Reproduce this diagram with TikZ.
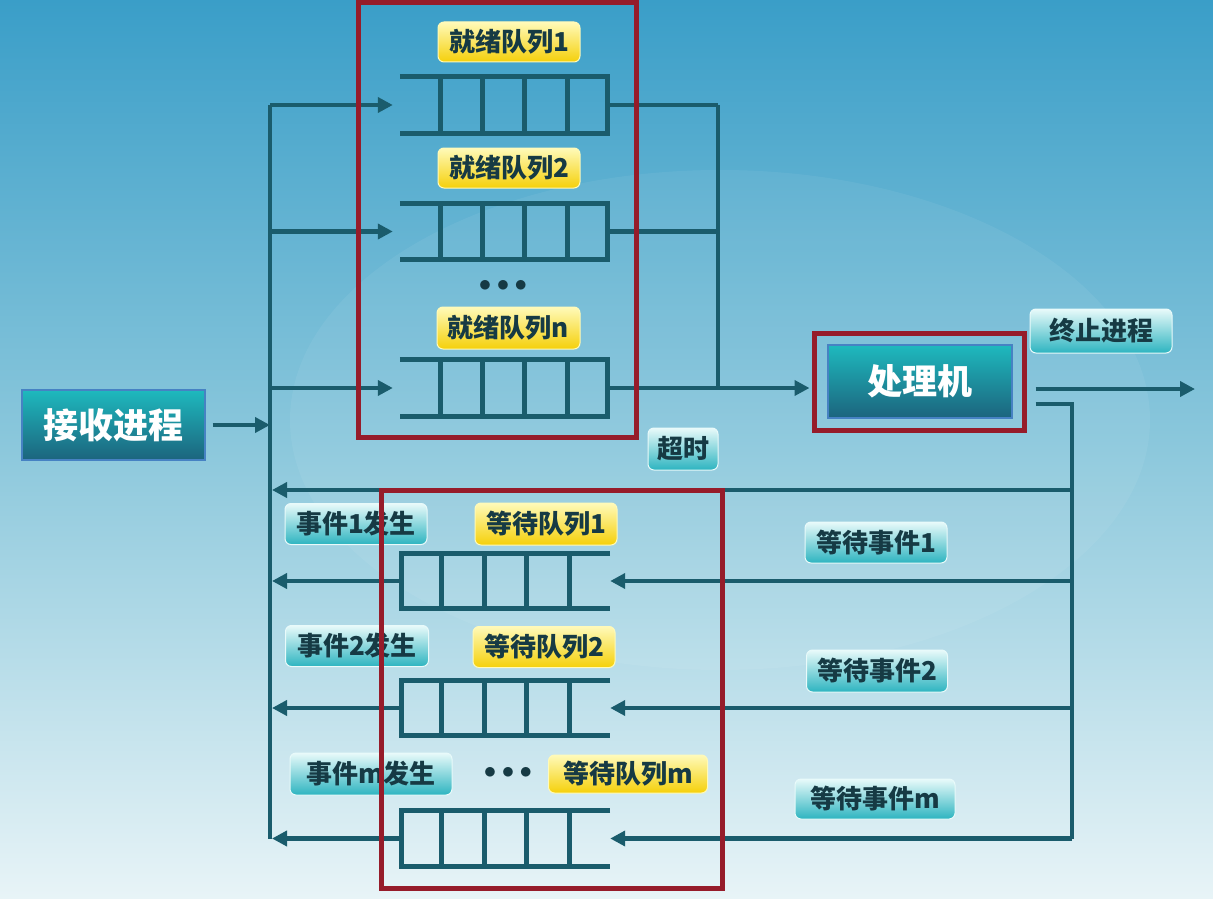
\documentclass[tikz,border=0pt]{standalone}
\usepackage{fontspec}
\newfontfamily\cjk{Noto Sans CJK SC}
\usetikzlibrary{arrows.meta,calc}
\definecolor{ln}{RGB}{26,92,108}
\definecolor{rd}{RGB}{150,28,42}
\definecolor{bgtop}{RGB}{58,158,200}
\definecolor{bgmid}{RGB}{140,200,220}
\definecolor{bgbot}{RGB}{232,244,247}
\definecolor{tealtop}{RGB}{30,185,190}
\definecolor{tealbot}{RGB}{28,100,125}
\definecolor{tealedge}{RGB}{70,130,195}
\definecolor{labtop}{RGB}{232,250,250}
\definecolor{labbot}{RGB}{45,180,192}
\definecolor{yeltop}{RGB}{255,250,185}
\definecolor{yelbot}{RGB}{245,208,10}
\definecolor{txt}{RGB}{22,58,68}
\tikzset{
  lnk/.style={draw=ln, line width=4.5pt},
  arr/.style={lnk, -{Triangle[length=15pt,width=15pt]}},
  qline/.style={draw=ln, line width=5pt},
  redbox/.style={draw=rd, line width=5pt, rectangle, inner sep=0pt},
  tealbox/.style={rectangle, top color=tealtop, bottom color=tealbot, draw=tealedge, line width=1.2pt, text=white, font=\cjk\bfseries\fontsize{35}{35}\selectfont, inner sep=0pt},
  ylab/.style={rectangle, rounded corners=6pt, top color=yeltop, bottom color=yelbot, draw=yeltop, line width=1pt, text=txt, font=\cjk\bfseries\fontsize{26}{26}\selectfont, inner sep=0pt, minimum height=40pt},
  tlab/.style={rectangle, rounded corners=6pt, top color=labtop, bottom color=labbot, draw=labtop, line width=1pt, text=txt, font=\cjk\bfseries\fontsize{26}{26}\selectfont, inner sep=0pt, minimum height=41pt},
  dots/.style={text=txt, font=\bfseries\fontsize{30}{30}\selectfont, inner sep=0pt}
}
\newcommand\readyq[2]{%
  \node[minimum width=207pt, minimum height=56pt, inner sep=0pt] (#1) at (503.5,#2) {};
  \draw[qline] (#1.north west) -- (#1.north east) -- (#1.south east) -- (#1.south west);
  \foreach \f in {41,83,125,168} \draw[qline] ([xshift=\f pt]#1.north west) -- ([xshift=\f pt]#1.south west);
}
\newcommand\waitq[2]{%
  \node[minimum width=208pt, minimum height=55pt, inner sep=0pt] (#1) at (506,#2) {};
  \draw[qline] (#1.north east) -- (#1.north west) -- (#1.south west) -- (#1.south east);
  \foreach \f in {40,83,125,168} \draw[qline] ([xshift=\f pt]#1.north west) -- ([xshift=\f pt]#1.south west);
}
\begin{document}
\begin{tikzpicture}[x=1pt,y=-1pt]
\useasboundingbox (0,0) rectangle (1213,899);
% background
\shade[top color=bgtop, bottom color=bgbot, middle color=bgmid] (0,0) rectangle (1213,899);
\fill[white, opacity=0.06] (720,420) ellipse (430pt and 250pt);

% main nodes
\node[tealbox, minimum width=183pt, minimum height=70pt] (recv) at (113.5,425) {接收进程};
\node[redbox, minimum width=210pt, minimum height=97pt] (cpuf) at (919,381.5) {};
\node[tealbox, minimum width=184pt, minimum height=73pt] (cpu) at (920,381.5) {处理机};

% queues
\readyq{rq1}{105}
\readyq{rq2}{231.5}
\readyq{rqn}{388}
\waitq{wq1}{581}
\waitq{wq2}{708}
\waitq{wqm}{838.5}

% coordinates
\coordinate (btop) at (270,105);
\coordinate (bbot) at (270,838.5);
\coordinate (jn) at (718,105);
\coordinate (exit) at (1195,389);
\coordinate (rv) at (1072,404);
\coordinate (tol) at (270,490);

% bus and input arrows
\draw[lnk] (btop) -- (bbot);
\draw[arr, shorten <=7pt] (recv.east) -- (recv.east -| btop);
\draw[arr, shorten >=7pt] (btop) -- (rq1.west);
\draw[arr, shorten >=7pt] (btop |- rq2.west) -- (rq2.west);
\draw[arr, shorten >=7pt] (btop |- rqn.west) -- (rqn.west);

% ready queue outputs
\draw[lnk] (rq1.east) -- (rq1.east -| jn);
\draw[lnk] (rq2.east) -- (rq2.east -| jn);
\draw[lnk] (rq1.east -| jn) -- (rqn.east -| jn);
\draw[arr, shorten >=2pt] (rqn.east) -- (rqn.east -| cpuf.west);

% processor outputs
\draw[arr, shorten <=9pt] (exit -| cpuf.east) -- (exit);
\draw[lnk, shorten <=9pt] (rv -| cpuf.east) -- (rv) -- (rv |- wqm.east);
\draw[arr, shorten >=2pt] (rv |- tol) -- (tol);
\draw[arr] (rv |- wq1.east) -- (wq1.east);
\draw[arr] (rv |- wq2.east) -- (wq2.east);
\draw[arr] (rv |- wqm.east) -- (wqm.east);

% wait queue outputs
\draw[arr, shorten >=2pt] (wq1.west) -- (wq1.west -| btop);
\draw[arr, shorten >=2pt] (wq2.west) -- (wq2.west -| btop);
\draw[arr, shorten >=2pt] (wqm.west) -- (bbot);

% labels
\node[ylab, minimum width=142pt] (l1) at (509,42) {就绪队列1};
\node[ylab, minimum width=142pt] (l2) at (509,168) {就绪队列2};
\node[dots] (d1) at (503,286) {$\bullet\bullet\bullet$};
\node[ylab, minimum width=143pt, minimum height=42pt] (ln) at (508.5,328) {就绪队列n};
\node[tlab, minimum width=142pt, minimum height=44pt] (term) at (1101,331) {终止进程};
\node[tlab, minimum width=70pt, minimum height=42pt] (tmo) at (683,449) {超时};
\node[tlab, minimum width=142pt] (e1) at (356,524) {事件1发生};
\node[ylab, minimum width=142pt, minimum height=42pt] (w1) at (546,524) {等待队列1};
\node[tlab, minimum width=142pt] (we1) at (876,542.5) {等待事件1};
\node[tlab, minimum width=143pt] (e2) at (357,646) {事件2发生};
\node[ylab, minimum width=142pt, minimum height=41pt] (w2) at (544,647) {等待队列2};
\node[tlab, minimum width=141pt, minimum height=42pt] (we2) at (877,671) {等待事件2};
\node[tlab, minimum width=162pt, minimum height=42pt] (em) at (371,774) {事件m发生};
\node[dots] (d2) at (508,773) {$\bullet\bullet\bullet$};
\node[ylab, minimum width=159pt, minimum height=38pt] (wm) at (628,774) {等待队列m};
\node[tlab, minimum width=160pt, minimum height=40pt] (wem) at (875,799) {等待事件m};

% red frames
\node[redbox, minimum width=278pt, minimum height=434pt] (rb1) at (497,220) {};
\node[redbox, minimum width=341pt, minimum height=398pt] (rb2) at (551.5,689) {};
\end{tikzpicture}
\end{document}
